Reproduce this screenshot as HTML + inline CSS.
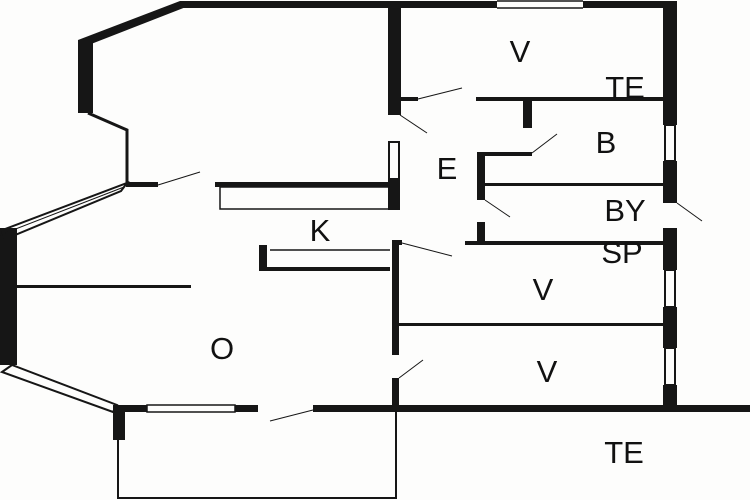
<!DOCTYPE html>
<html><head><meta charset="utf-8"><style>
html,body{margin:0;padding:0;background:#fff;}
svg{display:block;}
text{font-family:"Liberation Sans",sans-serif;font-size:31px;fill:#111;text-anchor:middle;}
</style></head><body>
<svg width="750" height="500" viewBox="0 0 750 500" xmlns="http://www.w3.org/2000/svg">
<rect width="750" height="500" fill="#fdfdfc"/>
<g fill="#161616" stroke="none">
<rect x="180" y="1" width="317" height="7"/>
<rect x="583" y="1" width="94" height="7"/>
<polygon points="180,1 186,7 86,46 78,40"/>
<rect x="78" y="40" width="15" height="73"/>
<rect x="388" y="1" width="13" height="114"/>
<rect x="388" y="180" width="12" height="30"/>
<rect x="126" y="182" width="32" height="5"/>
<rect x="215" y="182" width="185" height="5"/>
<rect x="663" y="1" width="14" height="124"/>
<rect x="663" y="161" width="14" height="42"/>
<rect x="663" y="228" width="14" height="42"/>
<rect x="663" y="307" width="14" height="41"/>
<rect x="663" y="385" width="14" height="27"/>
<rect x="400" y="97" width="18" height="4"/>
<rect x="476" y="97" width="187" height="4"/>
<rect x="523" y="99" width="9" height="29"/>
<rect x="483" y="152" width="49" height="4"/>
<rect x="477" y="152" width="8" height="48"/>
<rect x="477" y="222" width="8" height="23"/>
<rect x="485" y="183" width="178" height="3"/>
<rect x="465" y="241" width="198" height="4"/>
<rect x="395" y="240" width="7" height="5"/>
<rect x="392" y="240" width="7" height="115"/>
<rect x="392" y="378" width="7" height="34"/>
<rect x="399" y="323" width="264" height="3"/>
<rect x="0" y="228" width="17" height="137"/>
<rect x="17" y="285" width="174" height="3"/>
<rect x="259" y="245" width="8" height="26"/>
<rect x="259" y="267" width="131" height="4"/>
<rect x="113" y="405" width="34" height="7"/>
<rect x="235" y="405" width="23" height="7"/>
<rect x="313" y="405" width="437" height="7"/>
<rect x="113" y="405" width="12" height="35"/>
</g>
<g fill="none" stroke="#161616">
<line x1="497" y1="1" x2="583" y2="1" stroke-width="1.5"/>
<line x1="497" y1="8" x2="583" y2="8" stroke-width="1.5"/>
<polyline points="88,113 127,130 127,184" stroke-width="3"/>
<rect x="220" y="187" width="172" height="22" stroke-width="1.5"/>
<line x1="270" y1="250" x2="390" y2="250" stroke-width="1.5"/>
<rect x="389" y="142" width="10" height="37" stroke-width="2"/>
<rect x="665" y="125" width="10" height="36" stroke-width="2"/>
<rect x="665" y="270" width="10" height="37" stroke-width="2"/>
<rect x="665" y="348" width="10" height="37" stroke-width="2"/>
<polygon points="127,183 121,191 3,240 0,231" stroke-width="2"/>
<polygon points="12,365 2,372 113,412 117,405" stroke-width="2"/>
<line x1="0" y1="235" x2="124" y2="187" stroke-width="1"/>
<rect x="147" y="405" width="88" height="7" stroke-width="1.5"/>
<polyline points="118,440 118,498 396,498 396,412" stroke-width="2"/>
<g stroke-width="1">
<line x1="158" y1="185" x2="200" y2="172"/>
<line x1="418" y1="99" x2="462" y2="88"/>
<line x1="400" y1="115" x2="427" y2="133"/>
<line x1="532" y1="153" x2="557" y2="134"/>
<line x1="485" y1="200" x2="510" y2="217"/>
<line x1="677" y1="203" x2="702" y2="221"/>
<line x1="402" y1="243" x2="452" y2="256"/>
<line x1="399" y1="378" x2="423" y2="360"/>
<line x1="313" y1="410" x2="270" y2="421"/>
</g>
</g>
<text x="520" y="62">V</text>
<text x="625" y="98">TE</text>
<text x="606" y="153">B</text>
<text x="447" y="179">E</text>
<text x="625" y="221">BY</text>
<text x="622" y="263">SP</text>
<text x="320" y="241">K</text>
<text x="543" y="300">V</text>
<text x="547" y="382">V</text>
<text x="222" y="359">O</text>
<text x="624" y="463">TE</text>
</svg>
</body></html>
